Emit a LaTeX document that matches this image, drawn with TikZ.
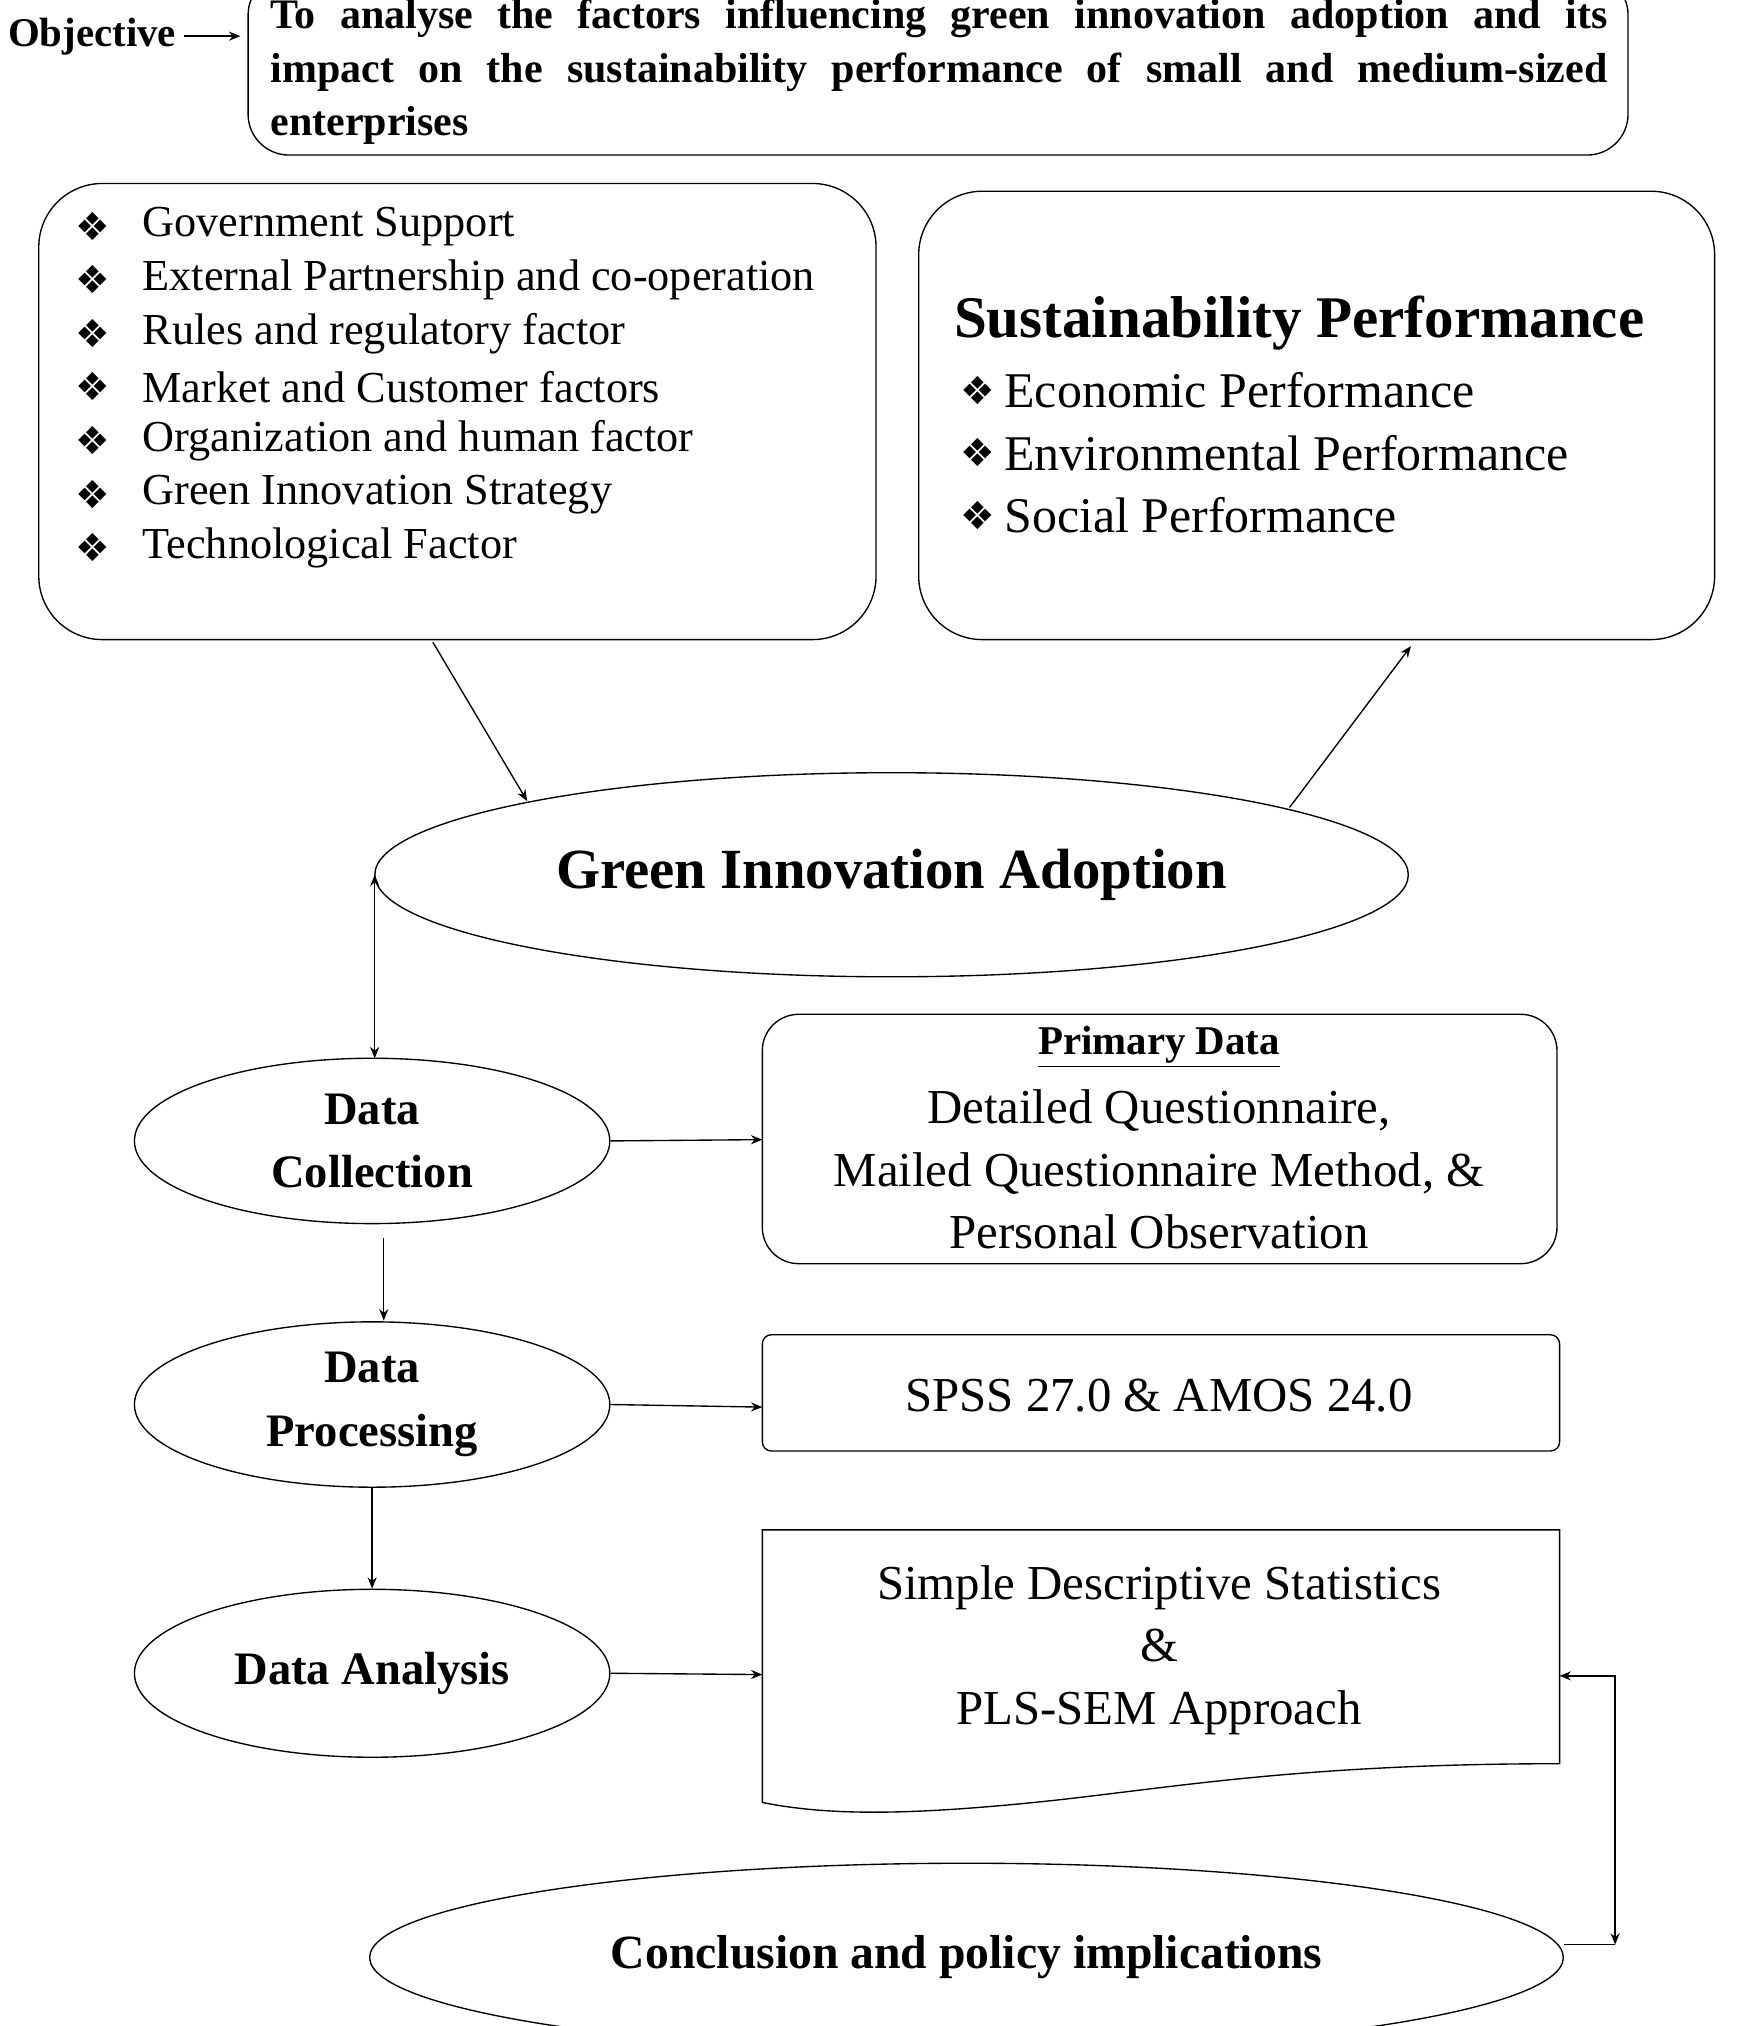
\documentclass[tikz,border=0pt]{standalone}
\usepackage{fontspec}
\setmainfont{Liberation Serif}
\newfontfamily\symf{DejaVu Sans}
\usetikzlibrary{shapes.geometric,arrows.meta}
\tikzset{
 ln/.style={draw=black,line width=0.6pt},
 ar/.style={ln,-{Stealth[length=5pt,width=4pt]}},
 ell/.style={ellipse,draw=black,line width=0.6pt,inner sep=0pt,align=center},
 rbox/.style={draw=black,line width=0.6pt,rounded corners=#1},
}
\newcommand{\bul}{{\symf\fontsize{17}{17}\selectfont ❖}}
\begin{document}
\begin{tikzpicture}[x=0.02cm,y=-0.02cm]
\useasboundingbox (0,0) rectangle (1360,1568);
\fill[white] (0,0) rectangle (1360,1568);
% objective
\node[anchor=west,font=\fontsize{18}{20}\selectfont\bfseries] (obj) at (0,28) {Objective};
\draw[rbox=18pt] (192,-20) rectangle (1260,120);
\coordinate (objbox) at (186,28);
\draw[ar] (obj.east) -- (objbox);
\node[anchor=north west,text width=20.7cm,align=justify,inner sep=0pt,font=\fontsize{18.5}{23.5}\selectfont\bfseries] (objt) at (209,-1)
 {To analyse the factors influencing green innovation adoption and its\linebreak impact on the sustainability performance of small and medium-sized\linebreak enterprises};
% left box
\draw[rbox=28pt] (30,142) rectangle (678,495);
\coordinate (lb) at (335,497);
\foreach \t [count=\i] in {Government Support,External Partnership and co-operation,Rules and regulatory factor,Market and Customer factors,Organization and human factor,Green Innovation Strategy,Technological Factor}{
 \node[anchor=center] at (72,{175+41.5*(\i-1)}) {\bul};
 \node[anchor=west,inner sep=0pt,font=\fontsize{19.5}{22}\selectfont] at (110,{175+41.5*(\i-1)}) {\t};
}
% right box
\draw[rbox=28pt] (711,148) rectangle (1327,495);
\coordinate (rb) at (1092,500);
\node[anchor=west,inner sep=0pt,font=\fontsize{26}{28}\selectfont\bfseries] (sp) at (738,250) {Sustainability Performance};
\foreach \t [count=\i] in {Economic Performance,Environmental Performance,Social Performance}{
 \node[anchor=center] at (757,{302+48.5*(\i-1)}) {\bul};
 \node[anchor=west,inner sep=0pt,font=\fontsize{22}{24}\selectfont] at (777,{302+48.5*(\i-1)}) {\t};
}
% GIA
\node[ell,minimum width=16cm,minimum height=3.16cm,font=\fontsize{25}{27}\selectfont\bfseries] (gia) at (690,677) {Green Innovation Adoption};
\coordinate (giain) at (408,620);
\coordinate (giaout) at (998,625);
\draw[ar] (lb) -- (giain);
\draw[ar] (giaout) -- (rb);
% data nodes
\tikzset{dn/.style={ell,minimum width=7.36cm,minimum height=2.56cm,font=\fontsize{20.5}{28}\selectfont\bfseries}}
\node[dn] (dc) at (288,883) {Data\\Collection};
\node[dn] (dp) at (288,1087) {Data\\Processing};
\node[dn,minimum height=2.6cm] (da) at (288,1295) {Data Analysis};
\coordinate (gl) at (290,677);
\coordinate (dct) at (290,819);
\draw[ln,{Stealth[length=5pt,width=4pt]}-{Stealth[length=5pt,width=4pt]}] (gl) -- (dct);
\coordinate (a1) at (297,958); \coordinate (a2) at (297,1022);
\draw[ar] (a1) -- (a2);
\draw[ar] (dp.south) -- (da.north);
% primary data
\draw[rbox=16pt] (590,785) rectangle (1205,978);
\node[font=\fontsize{18}{20}\selectfont\bfseries] (pd) at (897,810) {\underline{Primary Data}};
\node[align=center,font=\fontsize{21.5}{27.5}\selectfont] (pdt) at (897,905) {Detailed Questionnaire,\\Mailed Questionnaire Method, \&\\Personal Observation};
\coordinate (pdw) at (590,882);
\draw[ar] (dc.east) -- (pdw);
% spss
\draw[rbox=4pt] (590,1033) rectangle (1207,1123);
\node[font=\fontsize{21.5}{23}\selectfont] (spss) at (897,1080) {SPSS 27.0 \& AMOS 24.0};
\coordinate (spw) at (590,1089);
\draw[ar] (dp.east) -- (spw);
% document
\draw[ln] (590,1184) -- (1207,1184) -- (1207,1365) .. controls (1000,1365) and (900,1385) .. (800,1395) .. controls (700,1405) and (640,1405) .. (590,1395) -- cycle;
\node[align=center,font=\fontsize{21.5}{27.5}\selectfont] (dt) at (897,1277) {Simple Descriptive Statistics\\\&\\PLS-SEM Approach};
\coordinate (dw) at (590,1296);
\coordinate (de) at (1207,1297);
\draw[ar] (da.east) -- (dw);
% conclusion
\node[ell,minimum width=18.48cm,minimum height=2.92cm,font=\fontsize{21}{22}\selectfont\bfseries] (cl) at (748,1515) {Conclusion and policy implications};
\coordinate (cr) at (1250,1505);
\draw[ln,{Stealth[length=5pt,width=4pt]}-{Stealth[length=5pt,width=4pt]}] (de) -| (cr);
\draw[ln] (cl.east |- cr) -- (cr);
\end{tikzpicture}
\end{document}
